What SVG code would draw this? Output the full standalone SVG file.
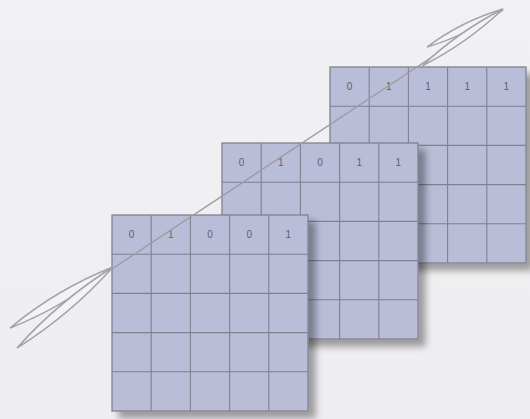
<svg xmlns="http://www.w3.org/2000/svg" xmlns:xlink="http://www.w3.org/1999/xlink" width="530" height="419" viewBox="0 0 530 419">
<style>
.cell{fill:#babdd8;stroke:#80808f;stroke-width:1.3}
.gl{stroke:#80808f;stroke-width:1.1;fill:none}
.num{font-family:"Liberation Sans",Arial,sans-serif;font-size:10px;fill:#60606a;text-anchor:middle}
.shaft{stroke:#9c9ca2;stroke-width:1.4;fill:none}
.leaf{stroke:#a2a2a7;stroke-width:1.5;fill:#f3f3f5}
</style>
<defs>
<linearGradient id="bg" x1="0" y1="0" x2="0" y2="1">
<stop offset="0" stop-color="#f1f1f3"/>
<stop offset="1" stop-color="#eeeef1"/>
</linearGradient>
<filter id="shadow" x="-10%" y="-10%" width="130%" height="130%">
<feGaussianBlur in="SourceAlpha" stdDeviation="3.5"/>
<feOffset dx="7" dy="7" result="b"/>
<feComponentTransfer><feFuncA type="linear" slope="0.35"/></feComponentTransfer>
<feMerge><feMergeNode/><feMergeNode in="SourceGraphic"/></feMerge>
</filter>
<g id="grid">
<rect class="cell" x="0" y="0" width="196" height="196"/>
<path class="gl" d="M39.2,0V196M78.4,0V196M117.6,0V196M156.8,0V196M0,39.2H196M0,78.4H196M0,117.6H196M0,156.8H196"/>
</g>
</defs>
<rect width="530" height="419" fill="url(#bg)"/>

<g id="grid-back" transform="translate(330,67)">
<use xlink:href="#grid" filter="url(#shadow)"/>
<text class="num" x="19.6" y="23">0</text>
<text class="num" x="58.8" y="23">1</text>
<text class="num" x="98" y="23">1</text>
<text class="num" x="137.2" y="23">1</text>
<text class="num" x="176.4" y="23">1</text>
</g>

<g id="grid-middle" transform="translate(222,143)">
<use xlink:href="#grid" filter="url(#shadow)"/>
<text class="num" x="19.6" y="23">0</text>
<text class="num" x="58.8" y="23">1</text>
<text class="num" x="98" y="23">0</text>
<text class="num" x="137.2" y="23">1</text>
<text class="num" x="176.4" y="23">1</text>
</g>

<g id="grid-front" transform="translate(112,215)">
<use xlink:href="#grid" filter="url(#shadow)"/>
<text class="num" x="19.6" y="23">0</text>
<text class="num" x="58.8" y="23">1</text>
<text class="num" x="98" y="23">0</text>
<text class="num" x="137.2" y="23">0</text>
<text class="num" x="176.4" y="23">1</text>
</g>

<g id="connectors">
<line class="shaft" x1="112" y1="269" x2="503" y2="10"/>
<path class="leaf" d="M503,9 Q468,35 427,47 Q462,21 503,9 Z"/>
<path class="leaf" d="M503,9 Q466.5,43.5 422,66 Q458.5,31.5 503,9 Z"/>
<path class="leaf" d="M113,267 Q66,306 10,328 Q57,289 113,267 Z"/>
<path class="leaf" d="M113,267 Q71,314 17,348 Q59,301 113,267 Z"/>
</g>
</svg>
